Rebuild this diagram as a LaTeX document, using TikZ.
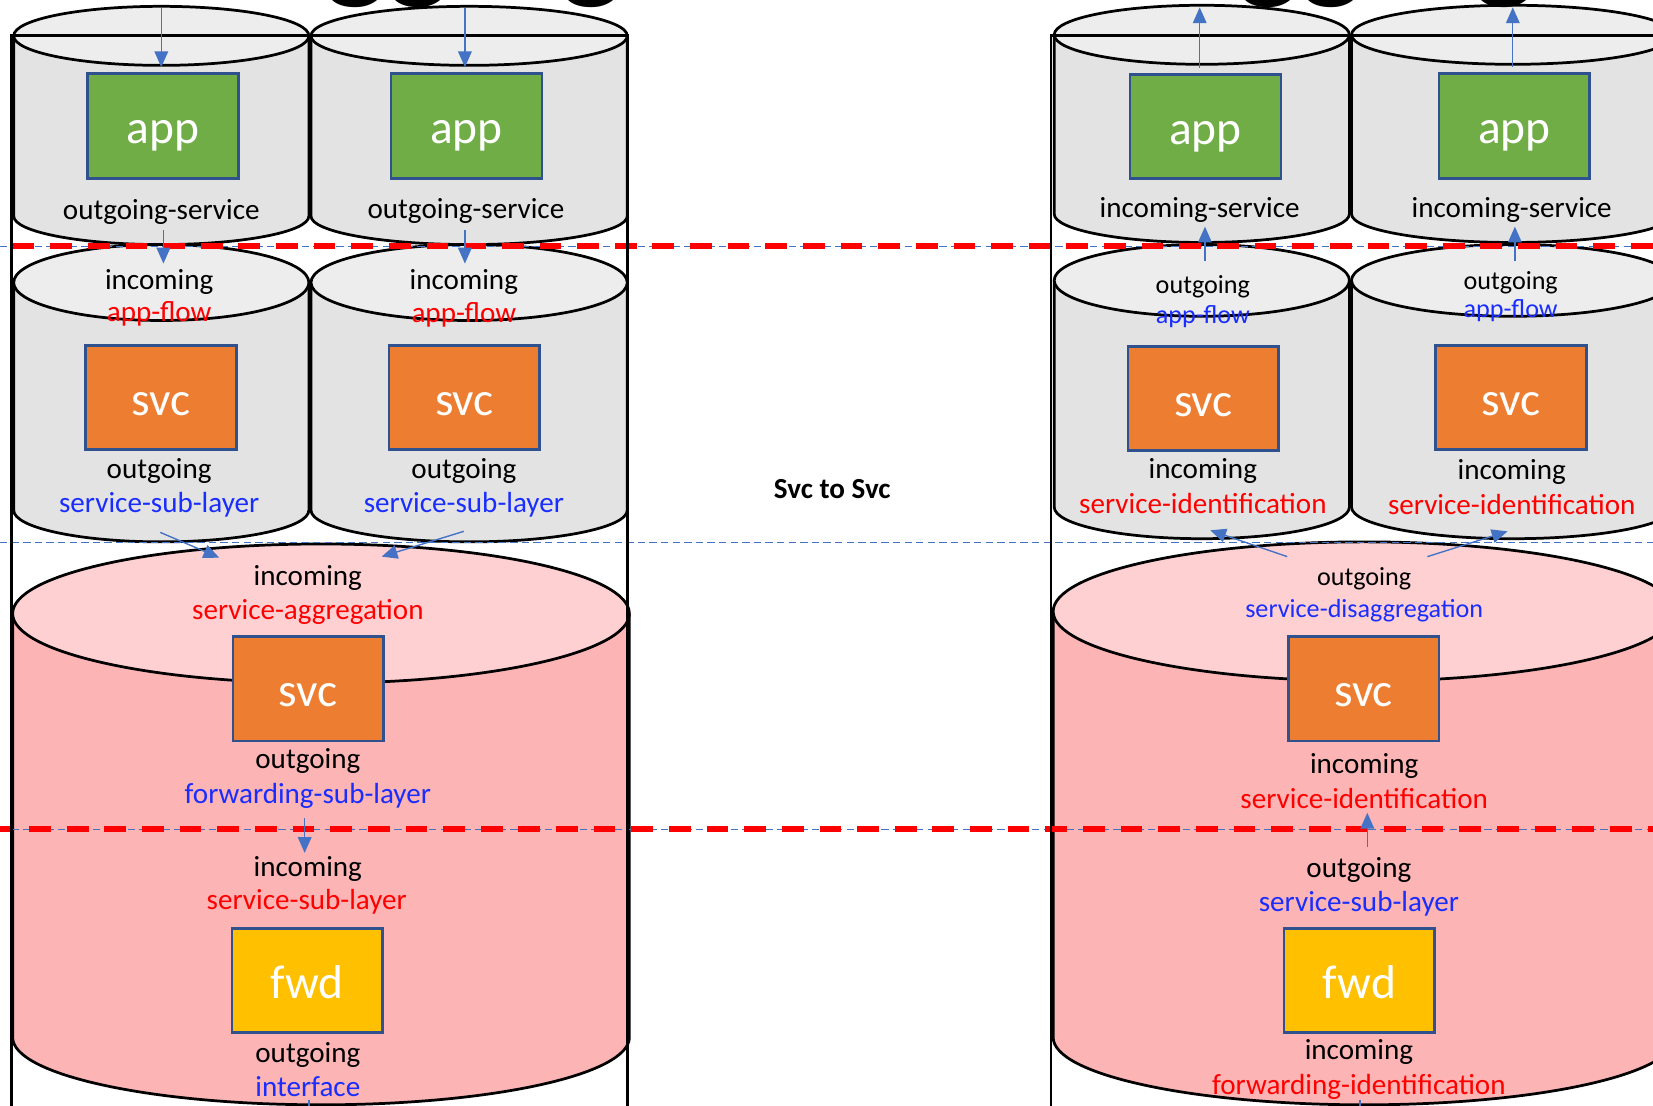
\documentclass[tikz,border=0pt]{standalone}
\usepackage{fontspec}
\setmainfont{Carlito}
\usetikzlibrary{arrows.meta}

\definecolor{drumgray}{RGB}{227,227,227}
\definecolor{drumgraytop}{RGB}{237,237,237}
\definecolor{drumpink}{RGB}{252,180,181}
\definecolor{drumpinktop}{RGB}{255,208,210}
\definecolor{appgreen}{RGB}{112,173,71}
\definecolor{svcorange}{RGB}{237,125,49}
\definecolor{fwdyellow}{RGB}{255,192,0}
\definecolor{boxedge}{RGB}{47,82,143}
\definecolor{flowblue}{RGB}{68,114,196}
\definecolor{lblred}{RGB}{255,0,0}
\definecolor{lblblue}{RGB}{25,45,255}

% cylinder: #1 centre x, #2 x radius, #3 top ellipse y, #4 bottom ellipse y,
% #5 top y radius, #6 bottom y radius, #7 body fill, #8 lid fill
\newcommand{\cylpart}[8]{%
  \fill[#7] ({#1-#2},#3) -- ({#1-#2},#4)
     arc[start angle=180,end angle=360,x radius=#2,y radius=#6]
     -- ({#1+#2},#3) -- cycle;
  \draw[drumline] ({#1-#2},#3) -- ({#1-#2},#4)
     arc[start angle=180,end angle=360,x radius=#2,y radius=#6]
     -- ({#1+#2},#3);
  \draw[drumline,fill=#8] (#1,#3) ellipse[x radius=#2,y radius=#5];
}

\tikzset{
  drumline/.style={draw=black,line width=1.3pt},
  unitbox/.style={draw=boxedge,line width=1.3pt,minimum width=71.5pt,
    minimum height=49.5pt,inner sep=0pt,text=white,
    font=\fontsize{22.5}{27}\selectfont,text height=17pt,text depth=0pt},
  appbox/.style={unitbox,fill=appgreen},
  svcbox/.style={unitbox,fill=svcorange},
  fwdbox/.style={unitbox,fill=fwdyellow},
  lbl/.style={inner sep=0pt,anchor=base,font=\fontsize{13.8}{16.5}\selectfont},
  lblsm/.style={inner sep=0pt,anchor=base,font=\fontsize{12.4}{15}\selectfont},
  flow/.style={draw=flowblue,line width=0.65pt,-{Triangle[length=7.5pt,width=6.5pt]}},
  flowline/.style={draw=flowblue,line width=0.65pt},
  guide/.style={draw=flowblue,line width=0.55pt,dash pattern=on 3.5pt off 2pt},
  cutline/.style={draw=red,line width=3pt,dash pattern=on 10.3pt off 7.55pt},
  frame/.style={draw=black,line width=1.3pt},
  headline/.style={inner sep=0pt,anchor=base west,font=\bfseries\fontsize{62}{70}\selectfont}
}

\begin{document}
\begin{tikzpicture}[x=0.5pt,y=0.5pt]
\useasboundingbox (0,0) rectangle (1568,-1049);
\clip (0,0) rectangle (1568,-1049);

% ---------- left stack ----------
\cylpart{153}{140}{-268}{-484}{36}{30}{drumgray}{drumgraytop}
\cylpart{445}{150}{-268}{-484}{36}{30}{drumgray}{drumgraytop}
\cylpart{153}{140}{-34}{-205}{28}{27}{drumgray}{drumgraytop}
\cylpart{445}{150}{-34}{-205}{28}{27}{drumgray}{drumgraytop}
\cylpart{304.5}{292.5}{-582}{-984}{66}{64}{drumpink}{drumpinktop}

% ---------- right stack ----------
\cylpart{1140}{140}{-266}{-481}{34}{30}{drumgray}{drumgraytop}
\cylpart{1435}{153}{-266}{-481}{34}{30}{drumgray}{drumgraytop}
\cylpart{1140}{140}{-33}{-203}{28}{27}{drumgray}{drumgraytop}
\cylpart{1435}{153}{-33}{-203}{28}{27}{drumgray}{drumgraytop}
\cylpart{1294}{295}{-580}{-984}{66}{64}{drumpink}{drumpinktop}

% ---------- boxes ----------
\node[appbox] (appA) at (154.5,-119.5) {app};
\node[appbox] (appB) at (442.5,-119.5) {app};
\node[svcbox] (svcA) at (152.5,-377) {svc};
\node[svcbox] (svcB) at (440.5,-377) {svc};
\node[svcbox] (svcL) at (292.5,-653.5) {svc};
\node[fwdbox] (fwdL) at (291.5,-930) {fwd};

\node[appbox] (appC) at (1143.5,-120) {app};
\node[appbox] (appD) at (1436.5,-119.5) {app};
\node[svcbox] (svcC) at (1141.5,-378) {svc};
\node[svcbox] (svcD) at (1433.5,-377) {svc};
\node[svcbox] (svcR) at (1293.5,-653.5) {svc};
\node[fwdbox] (fwdR) at (1289.5,-930) {fwd};

% ---------- labels, left ----------
\node[lbl] (osA) at (153,-208) {outgoing-service};
\node[lbl] (osB) at (442,-207) {outgoing-service};
\node[lbl] (inA2) at (151,-275) {incoming};
\node[lbl,text=lblred] (afA2) at (151,-305) {app-flow};
\node[lbl] (inB2) at (440,-275) {incoming};
\node[lbl,text=lblred] (afB2) at (440,-306) {app-flow};
\node[lbl] (ogA2) at (151,-453.5) {outgoing};
\node[lbl,text=lblblue] (sslA2) at (151,-486.5) {service-sub-layer};
\node[lbl] (ogB2) at (440,-453.5) {outgoing};
\node[lbl,text=lblblue] (sslB2) at (440,-486.5) {service-sub-layer};
\node[lbl] (inL) at (292,-555) {incoming};
\node[lbl,text=lblred] (saggL) at (292,-588) {service-aggregation};
\node[lbl] (ogL) at (292,-728.5) {outgoing};
\node[lbl,text=lblblue] (fslL) at (292,-762) {forwarding-sub-layer};
\node[lbl] (inL2) at (292,-831) {incoming};
\node[lbl,text=lblred] (sslL) at (291,-863) {service-sub-layer};
\node[lbl] (ogL2) at (292,-1008) {outgoing};
\node[lbl,text=lblblue] (ifL) at (292,-1040.5) {interface};

% ---------- labels, right ----------
\node[lbl] (isC) at (1138,-206) {incoming-service};
\node[lbl] (isD) at (1434,-206) {incoming-service};
\node[lblsm] (ogC2) at (1141,-278) {outgoing};
\node[lblsm,text=lblblue] (afC2) at (1141,-306.5) {app-flow};
\node[lblsm] (ogD2) at (1433,-275) {outgoing};
\node[lblsm,text=lblblue] (afD2) at (1433,-301.5) {app-flow};
\node[lbl] (inC2) at (1141,-453.5) {incoming};
\node[lbl,text=lblred] (sidC2) at (1141,-487) {service-identification};
\node[lbl] (inD2) at (1434,-455) {incoming};
\node[lbl,text=lblred] (sidD2) at (1434,-488.5) {service-identification};
\node[lblsm] (ogR) at (1294,-555) {outgoing};
\node[lblsm,text=lblblue] (sdisR) at (1294,-586) {service-disaggregation};
\node[lbl] (inR) at (1294,-734) {incoming};
\node[lbl,text=lblred] (sidR) at (1294,-766.5) {service-identification};
\node[lbl] (ogR2) at (1289,-832) {outgoing};
\node[lbl,text=lblblue] (sslR) at (1289,-865) {service-sub-layer};
\node[lbl] (inR2) at (1289,-1005) {incoming};
\node[lbl,text=lblred] (fidR) at (1289,-1038.5) {forwarding-identification};

\node[inner sep=0pt,anchor=base,font=\bfseries\fontsize{13.8}{16.5}\selectfont]
  (mid) at (789.5,-472.5) {Svc to Svc};

% ---------- layer guides ----------
\draw[guide] (0,-233.5) -- (1568,-233.5);
\draw[guide] (0,-514.5) -- (1568,-514.5);
\draw[guide] (0,-786.5) -- (1568,-786.5);
\draw[cutline] (12,-233.5) -- (1600,-233.5);
\draw[cutline] (-8,-786.5) -- (1600,-786.5);

% ---------- outer frames ----------
\draw[frame] (11,-1070) -- (11,-34) -- (595,-34) -- (595,-1070);
\draw[frame] (997,-1070) -- (997,-34) -- (1620,-34);

% ---------- flows, left ----------
\coordinate (topA) at (153,-8);
\coordinate (topB) at (441,-8);
\draw[flow,shorten >=2.5pt] (topA) -- (topA |- appA.north);
\draw[flow,shorten >=2.5pt] (topB) -- (topB |- appB.north);
\coordinate (dnAs) at (155,-218);
\coordinate (dnAe) at (155,-250);
\coordinate (dnBs) at (441,-218);
\coordinate (dnBe) at (441,-250);
\draw[flow] (dnAs) -- (dnAe);
\draw[flow] (dnBs) -- (dnBe);
\coordinate (aggAs) at (152,-505);
\coordinate (aggAe) at (208,-529);
\coordinate (aggBs) at (440,-504);
\coordinate (aggBe) at (362,-528);
\draw[flow] (aggAs) -- (aggAe);
\draw[flow] (aggBs) -- (aggBe);
\coordinate (fwdInS) at (289,-776);
\coordinate (fwdInE) at (289,-809);
\draw[flow] (fwdInS) -- (fwdInE);
\coordinate (exitLs) at (293,-1043);
\coordinate (exitL) at (293,-1060);
\draw[flowline] (exitLs) -- (exitL);

% ---------- flows, right ----------
\coordinate (topC) at (1138,-7);
\coordinate (topD) at (1435,-7);
\draw[flow,shorten <=2.5pt] (topC |- appC.north) -- (topC);
\draw[flow,shorten <=2.5pt] (topD |- appD.north) -- (topD);
\coordinate (upCs) at (1143,-248);
\coordinate (upCe) at (1143,-215);
\coordinate (upDs) at (1437,-248);
\coordinate (upDe) at (1437,-215);
\draw[flow] (upCs) -- (upCe);
\draw[flow] (upDs) -- (upDe);
\coordinate (disCs) at (1221,-528);
\coordinate (disCe) at (1148,-503);
\coordinate (disDs) at (1354,-528);
\coordinate (disDe) at (1430,-504);
\draw[flow] (disCs) -- (disCe);
\draw[flow] (disDs) -- (disDe);
\coordinate (idUpS) at (1297,-803);
\coordinate (idUpE) at (1297,-771);
\draw[flow] (idUpS) -- (idUpE);
\coordinate (exitRs) at (1290,-1043);
\coordinate (exitR) at (1290,-1060);
\draw[flowline] (exitRs) -- (exitR);

% ---------- headings (mostly above the frame) ----------
\node[headline] (headL) at (233,14) {Aggregation};
\node[headline] (headR) at (955,14) {Disaggregation};
\end{tikzpicture}
\end{document}
